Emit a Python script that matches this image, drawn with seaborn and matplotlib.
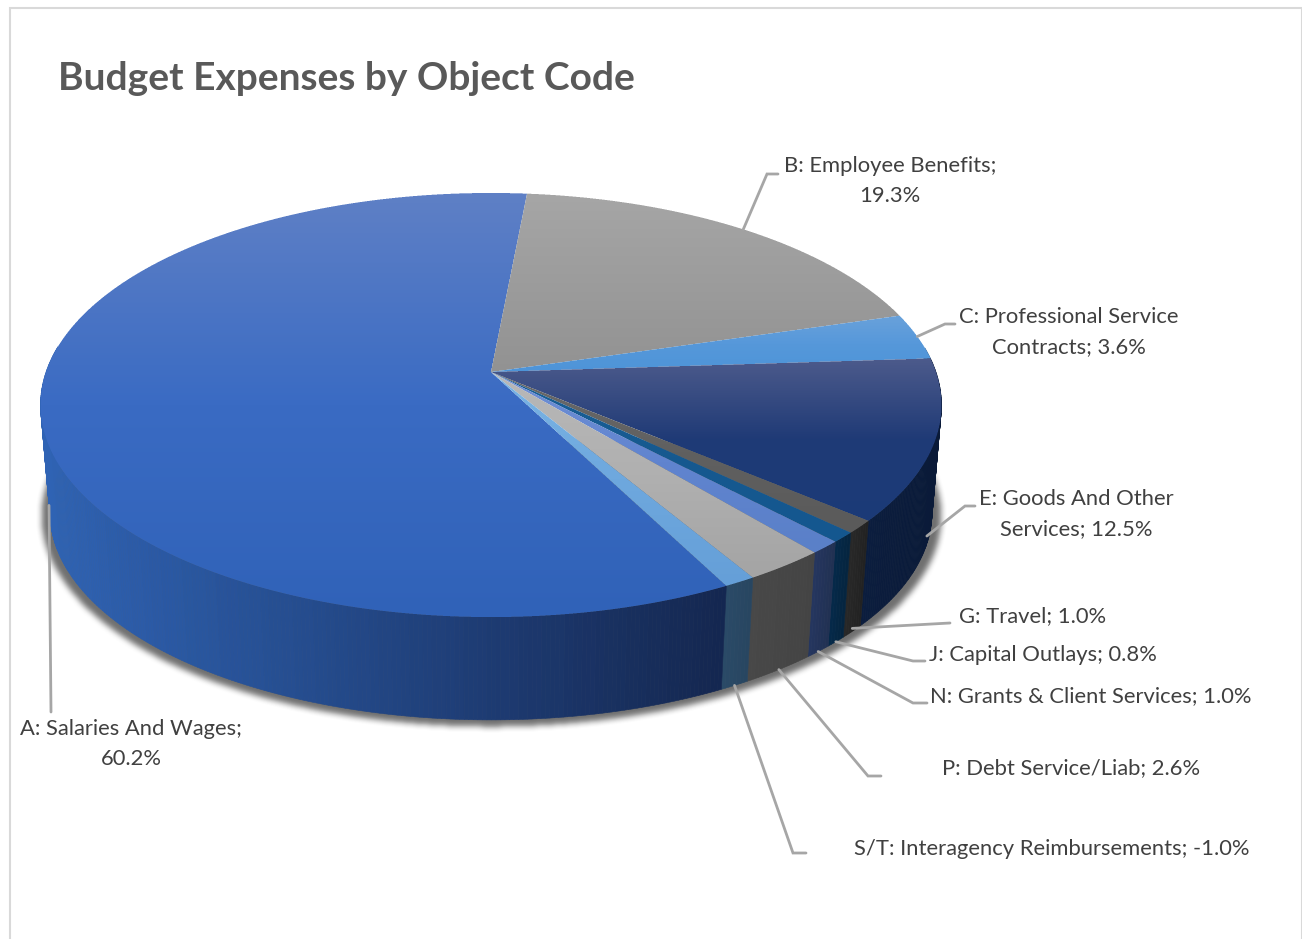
import numpy as np
import matplotlib
matplotlib.use("Agg")
import matplotlib.pyplot as plt
from matplotlib.patches import Polygon, Rectangle
from matplotlib.path import Path
import seaborn as sns

# Budget shares by object code, in percent
codes = ["A: Salaries And Wages", "B: Employee Benefits", "C: Professional Service\nContracts",
         "E: Goods And Other\nServices", "G: Travel", "J: Capital Outlays",
         "N: Grants & Client Services", "P: Debt Service/Liab", "S/T: Interagency Reimbursements"]
shares = [60.2, 19.3, 3.6, 12.5, 1.0, 0.8, 1.0, 2.6, -1.0]
separators = [";\n", ";\n", "; ", "; ", "; ", "; ", "; ", "; ", "; "]

# Top-face gradient (upper, middle, lower colour) per slice
top_light = ["#5f80c6", "#a6a6a6", "#6aa2da", "#4d5b8c", "#6a6a6a", "#1a6098", "#7090d6", "#b8b8b8", "#7ab4e4"]
top_mid = ["#3a6bc3", "#9c9c9c", "#5698da", "#1f3a76", "#606060", "#16598f", "#6084cf", "#b0b0b0", "#6ea8de"]
top_dark = ["#3062b8", "#929292", "#4d94d8", "#1b3a78", "#5a5a5a", "#14578f", "#5a80c8", "#a4a4a4", "#659fd8"]
# Wall gradient (colour at the left end, colour at the right end) per slice
wall_left = ["#2f63b4", "#5a5a5a", "#2f5f90", "#0b1d3e", "#282828", "#05294a", "#253660", "#484848", "#2a4a68"]
wall_right = ["#14264f", "#5a5a5a", "#2f5f90", "#0a1a38", "#222222", "#05253f", "#213152", "#444444", "#284660"]

# Label placement: text centre, elbow, tail end, how far down the wall the leader starts
label_xy = [(131, 744), (890, 181), (1069, 332), (1076, 514), (1033, 616),
            (1043, 655), (1091, 696), (1071, 768), (1052, 849)]
elbows = [(51, 712), (767, 174), (945, 324), (965, 506), (950, 623),
          (913, 661), (913, 703), (868, 776), (793, 853)]
tails = [(51, 712), (778, 174), (955, 324), (975, 506), (950, 623),
         (925, 661), (927, 703), (881, 776), (806, 853)]
leader_depth = [0.87, 0.0, 0.0, 0.9, 0.97, 1.0, 1.0, 1.0, 1.0]

W, H = 1302, 939
CX, APEX_Y = 491.0, 372.0
PERSP, RY, RX = 0.1557, 206.9, 445.0
WALL_SCALE, WALL_DROP = 0.979, 108.0
FIRST_ANGLE = -207.1  # clockwise degrees from twelve o'clock where slice A opens


def rim_top(phi):
    """Project rim angles (degrees clockwise from the back) onto the top face."""
    p = np.radians(phi)
    x, y = np.sin(p), np.cos(p)
    d = 1 + PERSP * y
    return CX + RX * x / d, APEX_Y - RY * y / d


def rim_bottom(phi):
    """Same rim on the underside of the disc, a little smaller and lower."""
    X, Y = rim_top(phi)
    return CX + WALL_SCALE * (X - CX), APEX_Y + WALL_SCALE * (Y - APEX_Y) + WALL_DROP


def box_blur(mask, size=7, passes=2):
    kernel = np.ones(size) / size
    for _ in range(passes):
        for axis in (0, 1):
            mask = np.apply_along_axis(lambda r: np.convolve(r, kernel, mode="same"), axis, mask)
    return mask


sns.set_theme(style="white")
plt.rcParams["font.family"] = ["Lato", "DejaVu Sans"]

fig = plt.figure(figsize=(W / 100, H / 100), dpi=100, facecolor="white")
ax = fig.add_axes([0, 0, 1, 1])
ax.set_axis_off()

# Chart frame
ax.add_patch(Rectangle((10, 8), W - 10.5, H + 20, fc="white", ec="#d9d9d9", lw=1.5, zorder=0))

weights = np.abs(shares)
spans = weights / weights.sum() * 360.0
starts = FIRST_ANGLE + np.concatenate([[0], np.cumsum(spans)[:-1]])

gx, gy = np.meshgrid(np.arange(W), np.arange(H))

# Soft drop shadow under the disc
phi_all = np.linspace(0, 360, 721)
bx, by = rim_bottom(phi_all)
sx = CX + (bx - CX) * 1.02
sy = by.mean() + (by - by.mean()) * 1.014 + 3
pts = np.column_stack([gx.ravel(), gy.ravel()])
mask = Path(np.column_stack([sx, sy])).contains_points(pts).reshape(H, W).astype(float)
# The shadow only falls on the lower half of the disc
mask[:440, :] = 0
rgba = np.zeros((H, W, 4))
rgba[..., :3] = 0.3
rgba[..., 3] = box_blur(mask) * 0.8
ax.imshow(rgba, extent=(0, W, H, 0), aspect="auto", zorder=1, interpolation="nearest")

# Walls, drawn back to front as thin quads coloured along the slice;
# the far side of the disc stays hidden behind the top face and is skipped
quads = []
for start, span, c0, c1 in zip(starts, spans, wall_left, wall_right):
    ramp = sns.blend_palette([c0, c1], 64)
    edges = np.linspace(start, start + span, max(2, int(span / 0.5) + 1))
    tx, ty = rim_top(edges)
    ux, uy = rim_bottom(edges)
    xmin, xmax = ux.min(), ux.max()
    for i in range(len(edges) - 1):
        if np.cos(np.radians(edges[i])) > 0.12:
            continue
        pos = ((ux[i] + ux[i + 1]) / 2 - xmin) / max(xmax - xmin, 1)
        col = ramp[int(np.clip(pos, 0, 1) * 63)]
        verts = [(tx[i], ty[i]), (tx[i + 1], ty[i + 1]), (ux[i + 1], uy[i + 1]), (ux[i], uy[i])]
        quads.append((np.cos(np.radians(edges[i])), verts, col))
for depth, verts, col in sorted(quads, key=lambda q: -q[0]):
    ax.add_patch(Polygon(verts, closed=True, fc=col, ec=col, lw=0.4, zorder=2))

# Top face: one vertical gradient per slice, with coverage computed on a finer grid
# so the slice edges stay smooth
SS = 3
sub = (np.arange(SS) + 0.5) / SS
for start, span, c0, cm, c1 in zip(starts, spans, top_light, top_mid, top_dark):
    edges = np.linspace(start, start + span, max(3, int(span) + 2))
    tx, ty = rim_top(edges)
    outline = np.column_stack([np.r_[CX, tx, CX], np.r_[APEX_Y, ty, APEX_Y]])
    x0, x1 = int(outline[:, 0].min()) - 1, int(outline[:, 0].max()) + 2
    y0, y1 = int(outline[:, 1].min()) - 1, int(outline[:, 1].max()) + 2
    fx = (np.arange(x0, x1)[:, None] + sub[None, :]).ravel()
    fy = (np.arange(y0, y1)[:, None] + sub[None, :]).ravel()
    mx, my = np.meshgrid(fx, fy)
    inside = Path(outline).contains_points(np.column_stack([mx.ravel(), my.ravel()])).reshape(mx.shape)
    cover = inside.reshape(y1 - y0, SS, x1 - x0, SS).mean(axis=(1, 3))
    ramp = np.array(sns.blend_palette([c0, cm, c1], y1 - y0))[:, :3]
    img = np.zeros((y1 - y0, x1 - x0, 4))
    img[..., :3] = ramp[:, None, :]
    img[..., 3] = cover
    ax.imshow(img, extent=(x0, x1, y1, y0), aspect="auto", zorder=3, interpolation="nearest")

# Leader lines and labels
for i, (code, share, sep) in enumerate(zip(codes, shares, separators)):
    mid = starts[i] + spans[i] / 2
    ax_t, ay_t = rim_top(mid)
    ax_b, ay_b = rim_bottom(mid)
    sx0 = ax_t + leader_depth[i] * (ax_b - ax_t)
    sy0 = ay_t + leader_depth[i] * (ay_b - ay_t)
    ax.plot([sx0, elbows[i][0], tails[i][0]], [sy0, elbows[i][1], tails[i][1]],
            color="#a6a6a6", lw=2.0, solid_joinstyle="miter", zorder=4)
    ax.text(*label_xy[i], f"{code}{sep}{share:.1f}%", ha="center", va="center", fontsize=15.8,
            color="#404040", linespacing=1.58, zorder=5)

ax.text(58, 79, "Budget Expenses by Object Code", fontsize=28, fontweight="bold",
        color="#595959", ha="left", va="center", zorder=5)

ax.set_xlim(0, W)
ax.set_ylim(H, 0)
fig.savefig("out.png", dpi=100)
